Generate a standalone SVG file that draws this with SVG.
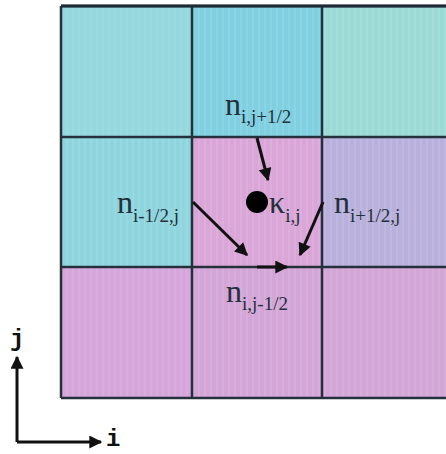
<svg xmlns="http://www.w3.org/2000/svg" width="446" height="454" viewBox="0 0 446 454">
<style>
.grid{stroke:#26303c;stroke-width:2.5;fill:none}
.lbl{font-family:"Liberation Serif","Times New Roman",serif;fill:#22303a}
.n{font-size:32px}
.sub{font-size:19px}
.ax{font-family:"Liberation Mono","DejaVu Sans Mono",monospace;font-weight:bold;font-size:24px;fill:#111}
.arr{stroke:#111;stroke-width:3;fill:none;marker-end:url(#ah)}
</style>
<defs>
<marker id="ah" viewBox="0 0 10 10" refX="9" refY="5" markerWidth="16" markerHeight="13" markerUnits="userSpaceOnUse" orient="auto">
<path d="M0,0 L10,5 L0,10 Z" fill="#111"/>
</marker>
<pattern id="stripes" width="6" height="10" patternUnits="userSpaceOnUse">
<rect x="0" y="0" width="2" height="10" fill="#ffffff" opacity="0.08"/>
</pattern>
</defs>
<g id="cells">
<rect x="61" y="6" width="131" height="131" fill="#94d7dc"/>
<rect x="192" y="6" width="130" height="131" fill="#80d0e2"/>
<rect x="322" y="6" width="124" height="131" fill="#9cdad6"/>
<rect x="61" y="137" width="131" height="130" fill="#8ed5de"/>
<rect x="192" y="137" width="130" height="130" fill="#daa6d8"/>
<rect x="322" y="137" width="124" height="130" fill="#b9b1dc"/>
<rect x="61" y="267" width="131" height="131" fill="#d5a6da"/>
<rect x="192" y="267" width="130" height="131" fill="#d4a6d8"/>
<rect x="322" y="267" width="124" height="131" fill="#d2a6d6"/>
<rect x="61" y="6" width="385" height="392" fill="url(#stripes)"/>
</g>
<g id="gridlines">
<path class="grid" d="M61,6 H446 M61,137 H446 M61,267 H446 M61,398 H446 M61,6 V398 M192,6 V398 M322,6 V398"/>
<path d="M61,6 H446" stroke="#1e2a36" stroke-width="3"/>
</g>
<g id="point">
<circle cx="257" cy="202" r="11" fill="#000"/>
</g>
<g id="connectors">
<line class="arr" x1="257" y1="138" x2="268" y2="180"/>
<line class="arr" x1="193" y1="202" x2="247" y2="255"/>
<line class="arr" x1="323" y1="202" x2="300" y2="255"/>
<line class="arr" x1="257" y1="267" x2="287" y2="267"/>
<line class="arr" x1="17" y1="442" x2="17" y2="357"/>
<line class="arr" x1="17" y1="442" x2="101" y2="442"/>
</g>
<g id="label-top"><text class="lbl" x="225" y="115"><tspan class="n">n</tspan><tspan class="sub" dy="8">i,j+1/2</tspan></text></g>
<g id="label-left"><text class="lbl" x="117" y="213"><tspan class="n">n</tspan><tspan class="sub" dy="9">i-1/2,j</tspan></text></g>
<g id="label-kappa"><text class="lbl" x="269" y="213"><tspan class="n">κ</tspan><tspan class="sub" dy="9">i,j</tspan></text></g>
<g id="label-right"><text class="lbl" x="334" y="213"><tspan class="n">n</tspan><tspan class="sub" dy="9">i+1/2,j</tspan></text></g>
<g id="label-bottom"><text class="lbl" x="226" y="302"><tspan class="n">n</tspan><tspan class="sub" dy="8">i,j-1/2</tspan></text></g>
<g id="axis-labels">
<text class="ax" x="10" y="346">j</text>
<text class="ax" x="106" y="446" font-size="22">i</text>
</g>
</svg>
